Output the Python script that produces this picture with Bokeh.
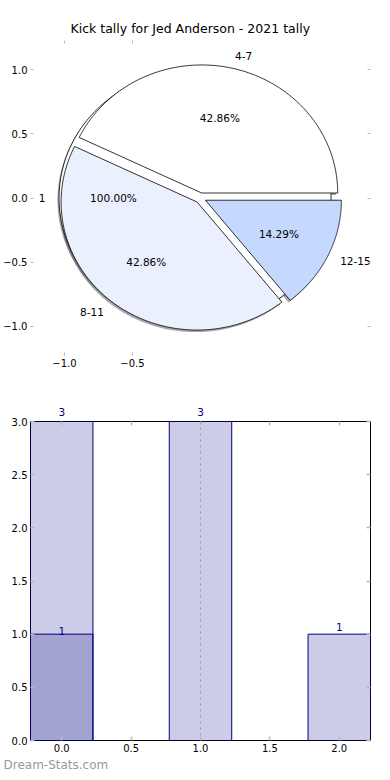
import numpy as np
from bokeh.plotting import figure
from bokeh.layouts import column
from bokeh.core.properties import value
from bokeh.models import (ColumnDataSource, FixedTicker, LinearAxis, Span, Title,
                          LabelSet, CustomJSTickFormatter)
from bokeh.embed import file_html
from bokeh.resources import INLINE

# ---------------- data ----------------
title_text = "Kick tally for Jed Anderson - 2021 tally"
pie_labels = ["4-7", "8-11", "12-15"]
pie_values = [3, 3, 1]
pie_colors = ["#ffffff", "#eaf0fd", "#c5d8fd"]
full_labels = ["1"]
full_values = [1]
full_colors = ["#ffffff"]
explode = 0.04

bar_x = [0, 1, 2]
bar_counts = [3, 3, 1]
hi_x = [0]
hi_counts = [1]
bar_ymax = 3
watermark = "Dream-Stats.com"

pie_xticks = [-1.0, -0.5]
pie_yticks = [-1.0, -0.5, 0.0, 0.5, 1.0]
bar_xticks = [0, 0.5, 1.0, 1.5, 2.0]
bar_yticks = [0, 0.5, 1.0, 1.5, 2.0, 2.5, 3.0]

FONT = "DejaVu Sans"
TICK_GRAY = "#b8b8b8"
fmt = CustomJSTickFormatter(code="return tick.toFixed(1).replace('-', '\u2212');")
blank = CustomJSTickFormatter(code="return '';")


def pie_geometry(values, expl):
    total = float(sum(values))
    xs, ys, lx, ly, px, py, aligns, pcts = [], [], [], [], [], [], [], []
    theta1 = 0.0
    for v in values:
        frac = v / total
        theta2 = theta1 + 2 * np.pi * frac
        mid = (theta1 + theta2) / 2
        cx, cy = expl * np.cos(mid), expl * np.sin(mid)
        t = np.linspace(theta1, theta2, 200)
        if frac >= 0.999:
            wx, wy = list(cx + np.cos(t)), list(cy + np.sin(t))
        else:
            wx = [cx] + list(cx + np.cos(t)) + [cx]
            wy = [cy] + list(cy + np.sin(t)) + [cy]
        xs.append(wx)
        ys.append(wy)
        lx.append(cx + 1.1 * np.cos(mid))
        ly.append(cy + 1.1 * np.sin(mid))
        px.append(cx + 0.6 * np.cos(mid))
        py.append(cy + 0.6 * np.sin(mid))
        aligns.append("left" if np.cos(mid) > 0 else "right")
        pcts.append("%.2f%%" % (100 * frac))
        theta1 = theta2
    return xs, ys, lx, ly, px, py, aligns, pcts


def style_axis(ax, tick_len, tick_w):
    ax.axis_line_color = None
    ax.major_tick_in = tick_len
    ax.major_tick_out = 0
    ax.major_tick_line_color = TICK_GRAY
    ax.major_tick_line_width = tick_w
    ax.minor_tick_line_color = None
    ax.major_label_text_font = FONT
    ax.major_label_text_font_size = "10px"
    ax.major_label_text_color = "black"
    ax.major_label_standoff = 3


def hidden_axis(ticks, tick_len, tick_w):
    a = LinearAxis(ticker=FixedTicker(ticks=ticks), formatter=blank)
    style_axis(a, tick_len, tick_w)
    a.major_label_text_color = None
    a.major_label_standoff = 0
    return a


# ---------------- pie ----------------
p1 = figure(width=390, height=375, x_range=(-1.25, 1.25), y_range=(-1.23, 1.23),
            output_backend="svg", toolbar_location=None,
            min_border_left=0, min_border_right=20, min_border_top=40, min_border_bottom=20)
p1.title.text = title_text
p1.title.align = "left"
p1.title.offset = 40
p1.title.text_font = FONT
p1.title.text_font_size = "12.5px"
p1.title.text_font_style = "normal"
p1.title.text_color = "black"
p1.outline_line_color = None
p1.grid.visible = False

for ax in (p1.xaxis[0], p1.yaxis[0]):
    style_axis(ax, 3, 1)
    ax.formatter = fmt
p1.xaxis[0].ticker = FixedTicker(ticks=pie_xticks)
p1.yaxis[0].ticker = FixedTicker(ticks=pie_yticks)
p1.add_layout(hidden_axis(pie_xticks, 3, 1), "above")
p1.add_layout(hidden_axis(pie_yticks, 3, 1), "right")

fx, fy, flx, fly, fpx, fpy, fal, fpct = pie_geometry(full_values, explode)
sx, sy, slx, sly, spx, spy, sal, spct = pie_geometry(pie_values, explode)

sdx, sdy = -0.012, -0.016
shadow_xs = [[v + sdx for v in w] for w in fx + sx]
shadow_ys = [[v + sdy for v in w] for w in fy + sy]
p1.patches(shadow_xs, shadow_ys, fill_color="#4d4d4d", fill_alpha=0.5, line_color=None)
p1.patches(fx, fy, fill_color=full_colors, line_color="black", line_width=0.8)
p1.patches(sx, sy, fill_color=pie_colors, line_color="black", line_width=0.8)

lab_src = ColumnDataSource(dict(x=flx + slx, y=fly + sly, t=full_labels + pie_labels,
                                a=fal + sal))
p1.text(x="x", y="y", text="t", text_align="a", text_baseline="middle", source=lab_src,
        text_font=value(FONT), text_font_size="10.5px", text_color="black")
pct_src = ColumnDataSource(dict(x=fpx + spx, y=fpy + spy, t=fpct + spct))
p1.text(x="x", y="y", text="t", text_align="center", text_baseline="middle", source=pct_src,
        text_font=value(FONT), text_font_size="10.5px", text_color="black")

# ---------------- bars ----------------
p2 = figure(width=390, height=405, x_range=(-0.225, 2.225), y_range=(0, bar_ymax),
            output_backend="svg", toolbar_location=None,
            min_border_left=0, min_border_right=20, min_border_top=46, min_border_bottom=40)
p2.outline_line_color = "black"
p2.outline_line_width = 1
p2.grid.visible = False
p2.xaxis[0].ticker = FixedTicker(ticks=bar_xticks)
p2.yaxis[0].ticker = FixedTicker(ticks=bar_yticks)
for ax in (p2.xaxis[0], p2.yaxis[0]):
    style_axis(ax, 4, 1.5)
    ax.formatter = fmt

# bar-value labels that sit above the top of the frame are written by the top axis
top_x = [x for x, c in zip(bar_x, bar_counts) if c >= bar_ymax]
top_t = [str(c) for x, c in zip(bar_x, bar_counts) if c >= bar_ymax]
top_fmt = CustomJSTickFormatter(args=dict(xs=top_x, ts=top_t),
                                code="const i = xs.indexOf(tick); return i >= 0 ? ts[i] : '';")
top_axis = LinearAxis(ticker=FixedTicker(ticks=bar_xticks), formatter=top_fmt)
style_axis(top_axis, 4, 1.5)
top_axis.major_label_text_color = "navy"
top_axis.major_label_text_font_size = "10.5px"
top_axis.major_label_standoff = 6
p2.add_layout(top_axis, "above")
p2.add_layout(hidden_axis(bar_yticks, 4, 1.5), "right")

p2.vbar(x=bar_x, top=bar_counts, width=0.45, fill_color="navy", fill_alpha=0.2,
        line_color="navy", line_width=1)
p2.vbar(x=hi_x, top=hi_counts, width=0.45, fill_color="navy", fill_alpha=0.2,
        line_color="navy", line_width=1)
p2.add_layout(Span(location=1, dimension="height", line_color="#999999",
                   line_dash="dotted", line_width=1))

in_x = [x for x, c in zip(bar_x, bar_counts) if c < bar_ymax]
in_c = [c for c in bar_counts if c < bar_ymax]
bsrc = ColumnDataSource(dict(x=in_x, y=in_c, t=[str(c) for c in in_c]))
p2.add_layout(LabelSet(x="x", y="y", text="t", source=bsrc, y_offset=3,
                       text_align="center", text_baseline="bottom", text_color="navy",
                       text_font=value(FONT), text_font_size="10.5px"))
hsrc = ColumnDataSource(dict(x=hi_x, y=hi_counts, t=[str(c) for c in hi_counts]))
p2.add_layout(LabelSet(x="x", y="y", text="t", source=hsrc, y_offset=-1,
                       text_align="center", text_baseline="bottom", text_color="navy",
                       text_font=value(FONT), text_font_size="10.5px"))

p2.add_layout(Title(text=watermark, align="left", offset=-27, text_color="#999999",
                    text_font=FONT, text_font_size="12px", text_font_style="normal",
                    standoff=2), "below")

layout = column(p1, p2, spacing=0)
open("out.html", "w").write(file_html(layout, INLINE))
